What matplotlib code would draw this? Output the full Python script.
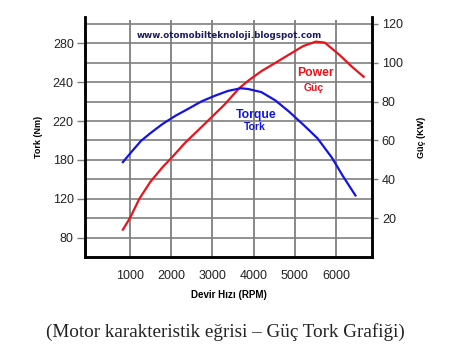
import numpy as np
import matplotlib.pyplot as plt

# engine speed (rpm) and torque (Nm)
rpm_torque = [825, 1040, 1265, 1495, 1795, 2100, 2420, 2740, 3055, 3375, 3690,
              3870, 4190, 4525, 4860, 5205, 5555, 5905, 6165, 6475]
torque = [176.6, 188.6, 199.6, 207.6, 217.2, 222.7, 226.4, 230.2, 233.0, 235.5, 236.9,
          236.5, 234.9, 230.7, 224.9, 216.4, 202.2, 182.2, 155.6, 125.1]

# engine speed (rpm) and power (kW)
rpm_power = [825, 1000, 1225, 1495, 1795, 2025, 2340, 2660, 2975, 3295, 3650,
             3865, 4190, 4525, 4860, 5205, 5510, 5730, 6080, 6385, 6675]
power = [14.1, 20.2, 30.0, 38.8, 46.4, 51.5, 58.9, 65.4, 71.9, 78.5, 86.9,
         90.7, 95.7, 99.9, 104.2, 108.6, 110.9, 110.4, 104.2, 98.1, 92.8]

rpm_ticks = [1000, 2000, 3000, 4000, 5000, 6000]
torque_ticks = [80, 120, 180, 220, 240, 280]
power_ticks = [20, 40, 60, 80, 100, 120]

# torque scale of the original is not linear: Nm label -> kW grid row
nm_pts = [40, 80, 120, 180, 220, 240, 280, 320]
kw_pts = [-10, 10, 30, 50, 70, 90, 110, 130]


def nm_to_row(v):
    return np.interp(v, nm_pts, kw_pts)


plt.rcParams['font.family'] = ['Liberation Sans', 'DejaVu Sans']

fig = plt.figure(figsize=(4.56, 3.61), dpi=100)
ax = fig.add_axes([0.186, 0.288, 0.630, 0.665])

grid_c = '#7f7f7f'
top_kw = 123.6
ax.set_xlim(-100, 6880)
ax.set_ylim(0, top_kw)
ax.set_xticks(rpm_ticks)
ax.set_yticks(nm_to_row(torque_ticks))
ax.set_yticklabels([str(t) for t in torque_ticks])
ax.set_yticks(np.arange(10, 121, 10), minor=True)
ax.grid(True, which='both', axis='y', color=grid_c, lw=1.2)
ax.tick_params(axis='y', which='minor', length=0)
# vertical grid lines drawn directly in data units
ax.vlines(rpm_ticks, 0, top_kw - 1.5, colors=grid_c, lw=1.3, zorder=1)

ax.plot(rpm_power, power, color='#e8141c', lw=1.6, solid_joinstyle='round', zorder=3)
ax.plot(rpm_torque, nm_to_row(torque), color='#1414e6', lw=1.6, solid_joinstyle='round',
        zorder=3)

ax2 = ax.twinx()
ax2.set_ylim(0, top_kw)
ax2.set_yticks(power_ticks)

for a in (ax, ax2):
    a.spines['top'].set_visible(False)
    for s in ('left', 'right', 'bottom'):
        a.spines[s].set_linewidth(1.8)
        a.spines[s].set_color('black')
ax.tick_params(axis='x', length=0, labelsize=9, pad=9, colors='#222222')
ax.tick_params(axis='y', which='major', length=6, width=1, color=grid_c, labelsize=9,
               pad=2, colors='#222222')
ax2.tick_params(axis='y', length=4, width=1, color=grid_c, labelsize=9, pad=3,
                colors='#222222')

ax.set_ylabel('Tork (Nm)', fontsize=6.5, fontweight='bold', labelpad=7)
ax2.set_ylabel('Güç (KW)', fontsize=6.5, fontweight='bold', labelpad=10)
ax.set_xlabel('Devir Hızı (RPM)', fontsize=7, fontweight='bold', labelpad=6)

ax.text(3415, 114.3, 'www.otomobilteknoloji.blogspot.com', fontsize=6.3,
        fontweight='bold', color='#1c1c5c', ha='center', va='center',
        family=['DejaVu Sans'], zorder=4)
ax.text(5505, 94.8, 'Power', fontsize=8.8, fontweight='bold', color='#e8141c',
        ha='center', va='center', zorder=4)
ax.text(5470, 87.0, 'Güç', fontsize=7.5, fontweight='bold', color='#e8141c',
        ha='center', va='center', zorder=4)
ax.text(4060, 73.1, 'Torque', fontsize=8.8, fontweight='bold', color='#1414e6',
        ha='center', va='center', zorder=4)
ax.text(4020, 67.0, 'Tork', fontsize=7.5, fontweight='bold', color='#1414e6',
        ha='center', va='center', zorder=4)

fig.text(0.494, 1 - 332 / 361, '(Motor karakteristik eğrisi – Güç Tork Grafiği)',
         fontsize=13.8, family=['Liberation Serif', 'DejaVu Serif'],
         ha='center', va='center', color='#222222')

fig.savefig('out.png', dpi=100)
